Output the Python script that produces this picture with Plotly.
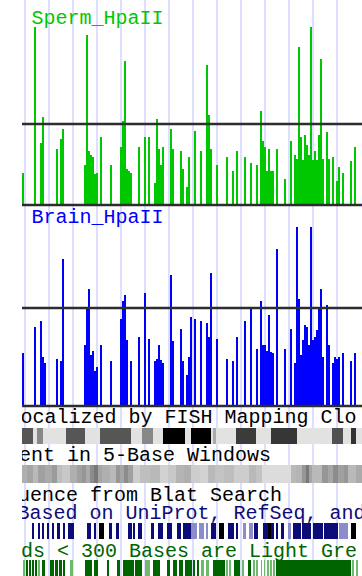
import plotly.graph_objects as go

# ------------------------------------------------------------------ data
# HpaII signal tracks (window position, score; threshold line at 1.0)
sperm_pos = [23, 35, 41, 43, 57, 61, 63,
             85, 87, 89, 91, 93, 95, 97,
             101, 111,
             121, 123, 125, 127, 129, 131,
             139, 145, 149,
             155, 157, 159, 161, 163,
             171, 173,
             181, 183, 187, 189,
             195, 201,
             207, 209, 211,
             217, 227, 233, 237,
             245, 251, 257,
             261, 263, 265, 267, 269, 271, 273,
             277, 285,
             291, 295, 297, 299, 301, 303, 305, 307, 309, 311, 313, 315, 317, 319, 321, 323,
             327, 329, 333,
             337, 339, 343,
             351, 355]
sperm_val = [0.40, 2.20, 0.77, 1.09, 0.69, 0.81, 0.94,
             0.49, 2.10, 0.67, 0.62, 0.59, 0.38, 0.40,
             0.84, 0.49,
             0.72, 1.04, 1.78, 0.44, 0.42, 0.40,
             0.72, 0.84, 0.84,
             0.27, 1.06, 0.69, 0.49, 0.72,
             0.94, 0.69,
             0.67, 0.44, 0.22, 0.59,
             0.91, 0.67,
             1.73, 1.11, 0.69,
             0.49, 0.59, 0.42, 0.67,
             0.59, 0.52, 0.49,
             1.16, 0.79, 0.72, 0.42, 0.69, 0.42, 0.42,
             0.69, 0.32,
             0.79, 0.62, 0.57, 1.95, 0.84, 0.56, 0.86, 0.74, 0.62, 2.20, 0.56, 0.67, 0.56, 0.86, 1.80, 0.57,
             0.90, 0.57, 0.59,
             0.30, 0.47, 0.40,
             0.54, 0.72]

brain_pos = [23, 35, 41, 43, 45,
             57, 61, 63,
             85, 87, 89, 91, 93, 95, 97,
             101, 111,
             121, 123, 125, 127,
             131, 139, 145, 149,
             155, 157, 159, 161, 163,
             171, 173,
             181, 183, 187, 189, 191,
             195, 201,
             207, 209, 211,
             217, 227, 233, 237,
             245, 251, 257,
             261, 263, 265, 267, 269, 271, 273,
             277, 285,
             291, 295, 297, 299, 301, 303, 305, 307, 309, 311, 313, 315, 317, 319, 321, 323,
             327, 329, 333, 335, 337, 339,
             343, 351, 355]
brain_val = [0.54, 0.81, 0.87, 0.50, 0.44,
             0.48, 0.46, 1.50,
             0.62, 1.01, 1.19, 0.52, 0.56, 0.36, 0.40,
             0.62, 0.46,
             0.89, 1.07, 1.13, 0.67,
             0.46, 0.70, 1.15, 0.68,
             0.46, 0.48, 0.62, 0.47, 0.44,
             1.34, 0.66,
             0.79, 0.46, 0.32, 0.50, 0.91,
             0.89, 0.87,
             0.85, 0.70, 1.36,
             0.68, 0.48, 0.46, 0.70,
             0.87, 0.99, 0.58,
             1.07, 0.62, 0.62, 0.56, 0.93, 0.55, 0.54,
             1.60, 0.58,
             0.79, 0.44, 1.83, 1.09, 0.52, 0.67, 0.83, 0.81, 0.62, 1.83, 0.67, 0.70, 0.78, 0.99, 1.19, 0.50,
             1.03, 0.62, 0.44, 0.50, 0.48, 0.50,
             0.54, 0.46, 0.54]

# FISH clones (dense): segment start/end and score
fish_start = [22, 33, 37, 43, 66, 85, 100, 131, 142, 153, 163, 185.3, 191, 211, 213, 216, 236, 256, 271, 297, 332, 343, 351, 356]
fish_end   = [33, 37, 43, 66, 85, 100, 131, 142, 153, 163, 185.3, 191, 211, 213, 216, 236, 256, 271, 297, 332, 343, 351, 356, 362]
fish_score = [0.62, 0.0, 0.40, 0.0, 0.62, 0.0, 0.62, 0.0, 0.40, 0.0, 1.0, 0.0, 1.0, 0.0, 0.25, 0.0, 0.74, 0.0, 0.76, 0.0, 0.64, 0.0, 0.78, 0.0]

# GC percent in windows
gc_start = [22, 27, 33, 38, 45, 52, 57, 62, 70, 77, 82, 86, 90, 94, 98, 102, 110, 116, 120, 124, 128, 133, 140, 150, 160,
            168, 176, 184, 191, 200, 208, 215, 224, 234, 249, 256, 262, 291, 296, 302, 306, 309, 312, 322, 328, 333, 338,
            344, 348, 356]
gc_pct = [47.0, 49.3, 44.8, 50.5, 48.2, 51.6, 43.6, 41.4, 47.0, 50.5, 52.7, 48.2, 55.0, 59.5, 49.3, 47.0, 44.8, 52.7, 49.3,
          55.0, 50.5, 40.2, 43.6, 44.8, 39.1, 41.4, 45.9, 47.0, 40.2, 39.1, 44.8, 42.5, 43.6, 40.2, 44.8, 42.5, 36.8, 44.8,
          45.9, 52.7, 59.5, 49.3, 44.8, 52.7, 49.3, 55.0, 50.5, 52.7, 44.8, 48.2]
GC_END = 362

# Genes (dense): exon blocks and overlap level (1 light, 2 normal, 3 dark)
gene_start = [31.5, 38, 42.5, 47, 51.5, 56.5, 62.5, 68, 86.5, 94, 99, 109, 115.5, 128, 133.5, 138, 150.5, 158, 166.5, 176.5,
              183, 191, 199, 206, 211, 219, 228, 236, 243, 249, 254, 263, 268, 271, 276, 281, 288, 293, 302, 313, 324,
              339, 351]
gene_end = [34, 39.5, 44, 49, 53.5, 59.5, 65, 73.5, 91, 96, 103.5, 112, 118.5, 132, 135, 142, 154, 163, 172, 181,
            191, 197, 204, 208, 216, 224, 234, 238, 246, 253, 258, 268, 271, 274, 278, 284, 291, 301, 311, 323, 338,
            348, 356]
gene_level = [2, 2, 2, 2, 2, 2, 2, 2, 2, 2, 3, 2, 2, 2, 2, 2, 2, 2, 2, 2,
              2, 1, 1, 1, 2, 3, 2, 2, 1, 1, 2, 2, 3, 2, 2, 2, 1, 2, 2, 2, 2,
              1, 3]

# Aligned reads (dense): blocks and level (1 short/light, 2 normal)
read_start = [23, 26.5, 29, 32, 35, 38, 41.5, 50, 55, 59, 63.5, 70, 85, 93.5, 106.5, 116.5, 123, 135, 145, 153, 166.5,
              173, 179, 185, 193, 196.5, 201, 206, 212.5, 226, 229.5, 234, 241.5, 247.5, 253, 256, 261, 264, 267,
              270.5, 273.5, 276, 352, 356]
read_end = [25, 28, 31, 34, 37, 40, 45, 54, 58, 62, 65, 73, 92, 97.5, 108.5, 120, 133.5, 142, 150, 160, 170,
            177, 183, 191.5, 195, 198.5, 204, 209, 224.5, 228, 231, 240, 244, 251, 254.5, 258, 262, 265, 268.5,
            272, 274.5, 351, 354, 358]
read_level = [1, 2, 2, 2, 2, 1, 2, 2, 2, 2, 2, 1, 2, 2, 2, 2, 2, 2, 1, 2, 2,
              2, 2, 2, 2, 2, 1, 1, 2, 1, 1, 2, 1, 2, 1, 1, 1, 1, 1,
              1, 1, 2, 1, 1]

THRESH = 1.0

# text
label_text = ["Sperm_HpaII", "Brain_HpaII", "ocalized by FISH Mapping Clo", "ent in 5-Base Windows",
              "uence from Blat Search", "Based on UniProt, RefSeq, and", "ds < 300 Bases are Light Gre"]

# ------------------------------------------------------------------ layout constants (pixels)
W, H = 362, 576
XL = 22
FS = 20
label_x = [31.5, 31.5, 20.5, 19, 18, 17.5, 21]
label_base = [24, 223, 422.5, 460.5, 500.5, 518.5, 556.5]
label_color = ["rgb(0,200,0)", "rgb(0,0,255)", "black", "black", "black", "rgb(12,12,120)", "rgb(0,100,0)"]


def dom(top_px, bottom_px):
    return [1 - bottom_px / H, 1 - top_px / H]


fig = go.Figure()

# labels on the full-page overlay axis (pixel coordinates)
fig.add_trace(go.Scatter(
    x=label_x, y=[b - 0.25 * FS for b in label_base], text=label_text, mode="text",
    textposition="middle right", cliponaxis=True,
    textfont=dict(family="Liberation Mono", size=FS, color=label_color),
    xaxis="x", yaxis="y", hoverinfo="skip", showlegend=False))

# HpaII bars
fig.add_trace(go.Bar(x=sperm_pos, y=sperm_val, width=1.9, marker=dict(color="rgb(0,200,0)", line_width=0),
                     xaxis="x2", yaxis="y2", hoverinfo="skip", showlegend=False))
fig.add_trace(go.Bar(x=brain_pos, y=brain_val, width=1.9, marker=dict(color="rgb(0,0,255)", line_width=0),
                     xaxis="x2", yaxis="y3", hoverinfo="skip", showlegend=False))


def band(starts, ends, levels, yaxis, colorscale, cmin, cmax):
    return go.Bar(
        x=[(s + e) / 2 for s, e in zip(starts, ends)], y=[1] * len(starts), base=0,
        width=[e - s for s, e in zip(starts, ends)],
        marker=dict(color=levels, colorscale=colorscale, cmin=cmin, cmax=cmax, line_width=0),
        xaxis="x2", yaxis=yaxis, hoverinfo="skip", showlegend=False)


fig.add_trace(band(fish_start, fish_end, fish_score, "y4",
                   [[0, "rgb(226,226,226)"], [1, "rgb(0,0,0)"]], 0, 1))
gc_end = gc_start[1:] + [GC_END]
fig.add_trace(band(gc_start, gc_end, gc_pct, "y5",
                   [[0, "rgb(228,228,228)"], [1, "rgb(96,96,96)"]], 35, 65))
fig.add_trace(band(gene_start, gene_end, gene_level, "y6",
                   [[0, "rgb(140,140,205)"], [0.5, "rgb(12,12,120)"], [1, "rgb(0,0,0)"]], 1, 3))
fig.add_trace(band(read_start, read_end, read_level, "y7",
                   [[0, "rgb(110,185,110)"], [1, "rgb(0,100,0)"]], 1, 2))

hidden = dict(visible=False, showgrid=False, zeroline=False)
layout = dict(
    width=W, height=H, margin=dict(l=0, r=0, t=0, b=0, pad=0),
    paper_bgcolor="white", plot_bgcolor="rgba(0,0,0,0)",
    barmode="overlay", bargap=0, showlegend=False, hovermode=False,
    xaxis=dict(domain=[XL / W, 1], range=[XL, W], showgrid=True, gridcolor="rgb(222,222,255)", gridwidth=1.6,
               tickmode="linear", tick0=25, dtick=24, showticklabels=False, ticks="", zeroline=False,
               showline=False, anchor="y"),
    xaxis2=dict(domain=[XL / W, 1], range=[XL, W], anchor="y2", **hidden),
    yaxis=dict(domain=[0, 1], range=[H, 0], anchor="x", **hidden),
    yaxis2=dict(domain=dom(18, 208), range=[-3 / 81, 187 / 81], anchor="x2", **hidden),
    yaxis3=dict(domain=dom(215, 409), range=[-3 / 98, 191 / 98], anchor="x2", **hidden),
    yaxis4=dict(domain=dom(427.5, 444), range=[0, 1], anchor="x2", **hidden),
    yaxis5=dict(domain=dom(465, 483.3), range=[0, 1], anchor="x2", **hidden),
    yaxis6=dict(domain=dom(523, 539), range=[0, 1], anchor="x2", **hidden),
    yaxis7=dict(domain=dom(560, 576), range=[0, 1], anchor="x2", **hidden),
)
fig.update_layout(**layout)

# threshold and baseline lines of the two signal tracks
for ya in ["y2", "y3"]:
    for level in [0, THRESH]:
        fig.add_shape(type="line", xref="x2 domain", x0=0, x1=1, yref=ya, y0=level, y1=level,
                      line=dict(color="rgb(45,45,45)", width=2.5), layer="above")

fig.write_html("out.html")
